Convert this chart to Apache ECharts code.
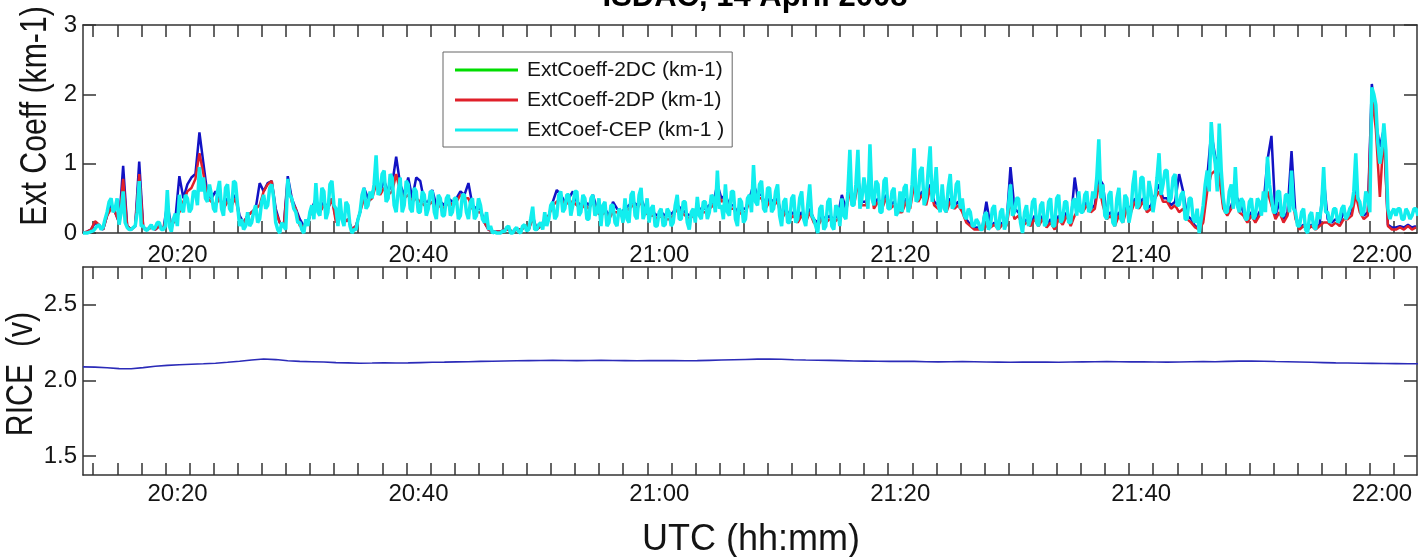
<!DOCTYPE html>
<html>
<head>
<meta charset="utf-8">
<script src="https://cdn.jsdelivr.net/npm/echarts@6/dist/echarts.min.js"></script>
<style>
  html, body { margin: 0; padding: 0; background: #fff; }
  #chart { width: 1418px; height: 557px; }
</style>
</head>
<body>
<div id="chart"></div>
<script>
// Time is expressed in minutes after 20:00 UTC.
const timeStart = 12.15;     // first sample of every record
const probeStep = 1 / 3;     // 2DC / 2DP extinction: one value every 20 s
const cepStep = 1 / 6;       // CEP extinction: one value every 10 s
const riceStep = 1;          // RICE voltage: one value per minute

const labelMinutes = [20, 40, 60, 80, 100, 120];
const tickMinutes = [13, 15, 17, 19, 21, 23, 25, 27, 29, 31, 33, 35, 37, 39, 41, 43, 45, 47, 49, 51,
  53, 55, 57, 59, 61, 63, 65, 67, 69, 71, 73, 75, 77, 79, 81, 83, 85, 87, 89, 91,
  93, 95, 97, 99, 101, 103, 105, 107, 109, 111, 113, 115, 117, 119, 121];
const extTicks = [0, 1, 2, 3];
const riceTicks = [1.5, 2.0, 2.5];

// ExtCoeff-2DC (km-1), three values per minute from 20:12
const ext2DC = [
  0, 0.02, 0.05,  0.15, 0.1, 0.05,  0.25, 0.4, 0.3,  0.15, 0.97, 0.1,  0.05, 0.1, 1.03,
  0.08, 0.05, 0.08,  0.05, 0.1, 0.05,  0.42, 0.1, 0.2,  0.82, 0.5, 0.7,  0.8, 0.85, 1.45,
  1.0, 0.55, 0.5,  0.6, 0.5, 0.4,  0.5, 0.45, 0.55,  0.25, 0.15, 0.25,  0.3, 0.35, 0.72,
  0.6, 0.72, 0.75,  0.35, 0.15, 0.1,  0.82, 0.5, 0.35,  0.2, 0.1, 0.15,  0.35, 0.5, 0.3,
  0.45, 0.35, 0.5,  0.2, 0.3, 0.15,  0.2, 0.05, 0.1,  0.3, 0.65, 0.5,  0.55, 0.8, 0.6,
  0.75, 0.6, 0.7,  1.1, 0.7, 0.55,  0.8, 0.5, 0.8,  0.75, 0.45, 0.45,  0.62, 0.4, 0.45,
  0.4, 0.5, 0.45,  0.5, 0.6, 0.55,  0.72, 0.4, 0.35,  0.35, 0.15, 0.05,  0.02, 0.02, 0.02,
  0.05, 0.05, 0.02,  0.05, 0.05, 0.08,  0.05, 0.25, 0.05,  0.1, 0.2, 0.25,  0.45, 0.62, 0.55,
  0.45, 0.5, 0.6,  0.45, 0.4, 0.45,  0.4, 0.55, 0.35,  0.3, 0.35, 0.25,  0.45, 0.35, 0.3,
  0.35, 0.4, 0.45,  0.4, 0.5, 0.35,  0.3, 0.3, 0.25,  0.3, 0.25, 0.25,  0.3, 0.4, 0.35,
  0.3, 0.25, 0.3,  0.35, 0.35, 0.35,  0.4, 0.45, 0.7,  0.5, 0.55, 0.4,  0.4, 0.3, 0.35,
  0.35, 0.5, 0.7,  0.55, 0.55, 0.4,  0.5, 0.45, 0.5,  0.25, 0.35, 0.25,  0.3, 0.2, 0.3,
  0.2, 0.35, 0.2,  0.15, 0.25, 0.2,  0.25, 0.2, 0.25,  0.55, 0.35, 0.7,  0.45, 0.8, 0.45,
  0.45, 0.85, 0.4,  0.5, 0.4, 0.55,  0.4, 0.45, 0.35,  0.35, 0.5, 0.4,  0.8, 0.5, 0.6,
  0.45, 0.7, 0.45,  0.4, 0.55, 0.35,  0.5, 0.4, 0.45,  0.35, 0.2, 0.12,  0.08, 0.08, 0.08,
  0.45, 0.1, 0.15,  0.08, 0.15, 0.12,  0.95, 0.35, 0.3,  0.12, 0.2, 0.12,  0.25, 0.12, 0.25,
  0.1, 0.2, 0.08,  0.25, 0.15, 0.3,  0.15, 0.8, 0.4,  0.35, 0.45, 0.35,  0.4, 0.8, 0.7,
  0.25, 0.3, 0.15,  0.3, 0.2, 0.4,  0.35, 0.5, 0.4,  0.5, 0.35, 0.4,  0.55, 0.7, 0.5,
  0.5, 0.4, 0.45,  0.85, 0.6, 0.25,  0.2, 0.1, 0.08,  0.2, 0.8, 1.45,  1.1, 0.95, 0.4,
  0.3, 0.4, 0.55,  0.45, 0.3, 0.2,  0.3, 0.2, 0.3,  0.4, 1.05, 1.4,  0.25, 0.45, 0.2,
  0.3, 1.18, 0.25,  0.08, 0.12, 0.08,  0.12, 0.08, 0.12,  0.8, 0.2, 0.15,  0.2, 0.15, 0.3,
  0.25, 0.3, 0.7,  0.35, 0.25, 0.3,  2.15, 1.6, 1.24,  1.5, 0.12, 0.08,  0.08, 0.1, 0.08,
  0.12, 0.08, 0.1
];

// ExtCoeff-2DP (km-1), three values per minute from 20:12
const ext2DP = [
  0, 0.02, 0.05,  0.17, 0.12, 0.05,  0.25, 0.35, 0.3,  0.15, 0.78, 0.1,  0.05, 0.1, 0.85,
  0.08, 0.05, 0.08,  0.05, 0.1, 0.05,  0.3, 0.1, 0.2,  0.3, 0.45, 0.6,  0.65, 0.78, 1.15,
  0.85, 0.5, 0.45,  0.4, 0.5, 0.35,  0.45, 0.4, 0.5,  0.2, 0.15, 0.25,  0.3, 0.35, 0.4,
  0.6, 0.7, 0.75,  0.3, 0.15, 0.1,  0.75, 0.45, 0.35,  0.1, 0.1, 0.15,  0.35, 0.45, 0.3,
  0.4, 0.35, 0.5,  0.15, 0.3, 0.15,  0.2, 0.05, 0.1,  0.3, 0.5, 0.45,  0.5, 0.7, 0.55,
  0.65, 0.55, 0.6,  0.85, 0.6, 0.5,  0.55, 0.45, 0.5,  0.45, 0.4, 0.4,  0.45, 0.35, 0.4,
  0.35, 0.45, 0.4,  0.45, 0.55, 0.5,  0.5, 0.35, 0.3,  0.3, 0.15, 0.05,  0.02, 0.02, 0.02,
  0.05, 0.05, 0.02,  0.05, 0.05, 0.08,  0.05, 0.2, 0.05,  0.1, 0.2, 0.25,  0.4, 0.45, 0.5,
  0.4, 0.45, 0.45,  0.4, 0.35, 0.4,  0.35, 0.45, 0.3,  0.25, 0.3, 0.2,  0.3, 0.3, 0.25,
  0.3, 0.35, 0.4,  0.35, 0.45, 0.3,  0.25, 0.25, 0.2,  0.25, 0.2, 0.2,  0.25, 0.35, 0.3,
  0.25, 0.2, 0.25,  0.3, 0.3, 0.3,  0.35, 0.4, 0.6,  0.45, 0.5, 0.35,  0.35, 0.25, 0.3,
  0.3, 0.45, 0.6,  0.5, 0.5, 0.35,  0.45, 0.4, 0.45,  0.2, 0.3, 0.2,  0.25, 0.15, 0.25,
  0.15, 0.3, 0.15,  0.1, 0.2, 0.15,  0.2, 0.15, 0.2,  0.3, 0.3, 0.6,  0.4, 0.7, 0.4,
  0.4, 0.75, 0.35,  0.45, 0.35, 0.5,  0.35, 0.4, 0.3,  0.3, 0.45, 0.35,  0.7, 0.45, 0.55,
  0.4, 0.65, 0.4,  0.35, 0.5, 0.3,  0.45, 0.35, 0.4,  0.3, 0.15, 0.1,  0.05, 0.05, 0.05,
  0.1, 0.08, 0.12,  0.05, 0.12, 0.1,  0.45, 0.2, 0.25,  0.1, 0.15, 0.1,  0.2, 0.1, 0.2,
  0.08, 0.15, 0.05,  0.2, 0.12, 0.25,  0.1, 0.25, 0.35,  0.3, 0.4, 0.3,  0.35, 0.7, 0.4,
  0.2, 0.25, 0.1,  0.25, 0.15, 0.35,  0.3, 0.45, 0.35,  0.45, 0.3, 0.35,  0.5, 0.6, 0.45,
  0.45, 0.35, 0.4,  0.3, 0.35, 0.2,  0.15, 0.08, 0.05,  0.15, 0.6, 0.85,  0.9, 0.8, 0.35,
  0.25, 0.35, 0.5,  0.3, 0.25, 0.15,  0.25, 0.15, 0.25,  0.35, 0.6, 0.4,  0.2, 0.3, 0.15,
  0.25, 0.6, 0.2,  0.05, 0.1, 0.05,  0.1, 0.05, 0.1,  0.15, 0.15, 0.1,  0.15, 0.1, 0.2,
  0.2, 0.25, 0.55,  0.3, 0.2, 0.25,  2.0, 1.5, 0.52,  1.45, 0.1, 0.05,  0.05, 0.08, 0.05,
  0.1, 0.05, 0.08
];

// ExtCoef-CEP (km-1), six values per minute from 20:12 (one row per minute)
const extCEP = [
  0, 0, 0, 0.01, 0.02, 0.03,
  0.06, 0.1, 0.12, 0.05, 0.08, 0.2,
  0.3, 0.45, 0.5, 0.3, 0.35, 0.5,
  0.12, 0.3, 0.6, 0.15, 0.08, 0.05,
  0.05, 0.08, 0.1, 0.3, 0.75, 0.1,
  0.1, 0.05, 0.04, 0.08, 0.12, 0.05,
  0.08, 0.15, 0.15, 0.05, 0.05, 0.1,
  0.62, 0.1, 0.02, 0.2, 0.28, 0.1,
  0.55, 0.35, 0.3, 0.55, 0.5, 0.3,
  0.35, 0.6, 0.6, 0.4, 0.95, 0.6,
  0.8, 0.5, 0.45, 0.7, 0.55, 0.35,
  0.3, 0.6, 0.75, 0.35, 0.25, 0.65,
  0.7, 0.35, 0.3, 0.75, 0.72, 0.4,
  0.1, 0.2, 0.05, 0.1, 0.3, 0.1,
  0.15, 0.3, 0.4, 0.15, 0.2, 0.45,
  0.55, 0.35, 0.4, 0.65, 0.7, 0.5,
  0.15, 0.05, 0, 0.15, 0.1, 0.05,
  0.78, 0.55, 0.5, 0.35, 0.3, 0.15,
  0.15, 0.05, 0, 0.2, 0.1, 0.3,
  0.4, 0.2, 0.72, 0.3, 0.25, 0.65,
  0.6, 0.2, 0.3, 0.7, 0.75, 0.4,
  0.35, 0.1, 0.5, 0.2, 0.1, 0.45,
  0.4, 0.1, 0, 0.05, 0.05, 0.2,
  0.3, 0.55, 0.65, 0.35, 0.4, 0.6,
  0.5, 0.7, 1.12, 0.55, 0.6, 0.85,
  0.9, 0.45, 0.5, 0.85, 0.8, 0.4,
  0.3, 0.6, 0.8, 0.3, 0.4, 0.75,
  0.7, 0.35, 0.3, 0.65, 0.6, 0.3,
  0.3, 0.6, 0.55, 0.25, 0.35, 0.6,
  0.6, 0.3, 0.2, 0.55, 0.5, 0.25,
  0.25, 0.5, 0.55, 0.25, 0.3, 0.5,
  0.5, 0.2, 0.25, 0.55, 0.55, 0.3,
  0.2, 0.45, 0.5, 0.2, 0.25, 0.5,
  0.4, 0.2, 0.15, 0.3, 0.05, 0.1,
  0, 0.02, 0, 0, 0, 0.03,
  0.02, 0.08, 0.1, 0, 0, 0.05,
  0.08, 0.02, 0, 0.1, 0.12, 0.03,
  0.05, 0.2, 0.38, 0.05, 0.05, 0.12,
  0.15, 0.05, 0.3, 0.1, 0.2, 0.4,
  0.45, 0.2, 0.25, 0.55, 0.6, 0.3,
  0.35, 0.55, 0.55, 0.25, 0.4, 0.6,
  0.6, 0.25, 0.3, 0.55, 0.5, 0.2,
  0.2, 0.5, 0.55, 0.25, 0.3, 0.5,
  0.1, 0.4, 0.45, 0.1, 0.15, 0.4,
  0.4, 0.15, 0.1, 0.35, 0.3, 0.15,
  0.5, 0.2, 0.15, 0.55, 0.6, 0.25,
  0.2, 0.55, 0.65, 0.2, 0.3, 0.5,
  0.15, 0.35, 0.4, 0.1, 0.1, 0.3,
  0.35, 0.1, 0.12, 0.35, 0.3, 0.1,
  0.15, 0.4, 0.55, 0.2, 0.2, 0.45,
  0.45, 0.15, 0.05, 0.3, 0.35, 0.15,
  0.52, 0.25, 0.2, 0.45, 0.45, 0.2,
  0.3, 0.55, 0.5, 0.3, 0.9, 0.35,
  0.4, 0.2, 0.7, 0.3, 0.25, 0.6,
  0.6, 0.2, 0.1, 0.5, 0.45, 0.15,
  0.2, 0.5, 0.55, 0.3, 0.98, 0.45,
  0.4, 0.7, 0.75, 0.35, 0.3, 0.65,
  0.65, 0.3, 0.35, 0.6, 0.7, 0.25,
  0.1, 0.45, 0.5, 0.15, 0.15, 0.5,
  0.55, 0.15, 0.2, 0.5, 0.6, 0.2,
  0.1, 0.4, 0.7, 0.25, 0.2, 0.1,
  0, 0.35, 0.4, 0.05, 0.1, 0.45,
  0.5, 0.1, 0.05, 0.4, 0.35, 0.1,
  0.5, 0.25, 0.2, 0.6, 1.2, 0.4,
  0.4, 0.7, 1.2, 0.35, 0.5, 0.8,
  0.6, 0.35, 1.28, 0.5, 0.4, 0.75,
  0.7, 0.3, 0.3, 0.75, 0.8, 0.35,
  0.35, 0.6, 0.65, 0.25, 0.3, 0.6,
  0.3, 0.65, 0.7, 0.3, 0.4, 0.7,
  1.22, 0.45, 0.5, 0.9, 0.95, 0.4,
  0.5, 0.9, 1.25, 0.45, 0.6, 0.95,
  0.4, 0.3, 0.7, 0.35, 0.3, 0.65,
  0.85, 0.35, 0.4, 0.7, 0.75, 0.35,
  0.5, 0.25, 0.2, 0.35, 0.3, 0.1,
  0.1, 0.2, 0.15, 0.05, 0.05, 0.25,
  0.3, 0.05, 0.1, 0.35, 0.4, 0.1,
  0.05, 0.3, 0.35, 0.05, 0.15, 0.4,
  0.7, 0.25, 0.3, 0.5, 0.5, 0.15,
  0, 0.3, 0.4, 0.1, 0.2, 0.45,
  0.5, 0.15, 0.1, 0.4, 0.45, 0.1,
  0.15, 0.45, 0.5, 0.1, 0.1, 0.5,
  0.55, 0.15, 0.2, 0.45, 0.45, 0.15,
  0.15, 0.45, 0.5, 0.25, 0.6, 0.3,
  0.3, 0.55, 0.6, 0.3, 0.35, 0.6,
  0.5, 0.8, 1.35, 0.5, 0.7, 0.25,
  0.2, 0.55, 0.6, 0.15, 0.1, 0.5,
  0.65, 0.2, 0.15, 0.55, 0.5, 0.15,
  0.3, 0.7, 0.9, 0.35, 0.4, 0.8,
  0.8, 0.35, 0.35, 0.75, 0.6, 0.3,
  0.5, 0.8, 1.15, 0.55, 0.7, 0.9,
  0.9, 0.45, 0.5, 0.8, 0.85, 0.4,
  0.4, 0.55, 0.6, 0.2, 0.2, 0.5,
  0.5, 0.2, 0.15, 0.35, 0, 0.2,
  0.4, 0.7, 0.9, 0.6, 1.6, 1.2,
  1.0, 0.6, 1.58, 0.9, 0.5, 0.3,
  0.3, 0.6, 0.7, 0.35, 0.95, 0.4,
  0.3, 0.5, 0.45, 0.2, 0.2, 0.45,
  0.5, 0.2, 0.25, 0.5, 0.45, 0.25,
  0.6, 0.3, 1.1, 0.7, 0.5, 0.3,
  0.3, 0.6, 0.6, 0.25, 0.25, 0.55,
  0.55, 0.3, 0.9, 0.35, 0.3, 0.1,
  0.1, 0.3, 0.35, 0.05, 0, 0.25,
  0.3, 0.1, 0.05, 0.3, 0.2, 0.4,
  0.95, 0.3, 0.3, 0.15, 0.2, 0.35,
  0.35, 0.15, 0.2, 0.35, 0.4, 0.2,
  0.25, 0.35, 0.4, 0.6, 1.15, 0.5,
  0.45, 0.25, 0.3, 0.6, 0.5, 0.3,
  2.1, 2.0, 1.85, 1.3, 1.0, 1.2,
  1.58, 1.2, 0.35, 0.2, 0.3, 0.35,
  0.25, 0.35, 0.35, 0.2, 0.2, 0.35,
  0.3, 0.2, 0.25, 0.35, 0.35, 0.25
];

// RICE (v), one value per minute from 20:12
const rice = [
  2.090, 2.088, 2.084, 2.078, 2.077, 2.085, 2.094, 2.100, 2.104, 2.107,
  2.110, 2.114, 2.120, 2.127, 2.135, 2.142, 2.138, 2.130, 2.126, 2.124,
  2.122, 2.118, 2.116, 2.114, 2.115, 2.117, 2.115, 2.116, 2.118, 2.120,
  2.121, 2.123, 2.124, 2.126, 2.127, 2.129, 2.130, 2.131, 2.132, 2.133,
  2.132, 2.131, 2.132, 2.133, 2.132, 2.131, 2.130, 2.131, 2.132, 2.131,
  2.130, 2.131, 2.133, 2.135, 2.137, 2.139, 2.141, 2.142, 2.140, 2.137,
  2.135, 2.134, 2.133, 2.131, 2.129, 2.128, 2.127, 2.126, 2.127, 2.126,
  2.124, 2.123, 2.124, 2.125, 2.124, 2.122, 2.121, 2.120, 2.121, 2.122,
  2.121, 2.120, 2.122, 2.123, 2.124, 2.125, 2.124, 2.123, 2.124, 2.122,
  2.121, 2.122, 2.124, 2.125, 2.124, 2.126, 2.128, 2.129, 2.127, 2.125,
  2.124, 2.122, 2.120, 2.118, 2.116, 2.115, 2.114, 2.113, 2.112, 2.111,
  2.110, 2.110
];

const FONT = "'Liberation Sans', Arial, Helvetica, sans-serif";
const AXIS_COLOR = '#333';
const TEXT_COLOR = '#141414';

function toPairs(values, step) {
  return values.map((v, i) => [timeStart + i * step, v]);
}

function hhmm(v) {
  const total = 20 * 60 + Math.round(v);
  const h = Math.floor(total / 60);
  const m = total % 60;
  return h + ':' + (m < 10 ? '0' : '') + m;
}

const xMin = 12.15, xMax = 122.9;

function timeAxis(gridIndex, position, withLabels, labelMargin) {
  return {
    type: 'value', gridIndex, position, min: xMin, max: xMax,
    axisLine: { show: true, onZero: false, lineStyle: { color: AXIS_COLOR, width: 1.5 } },
    axisTick: { show: true, inside: true, length: 12, customValues: tickMinutes,
      lineStyle: { color: AXIS_COLOR, width: 1.5 } },
    axisLabel: { show: withLabels, customValues: labelMinutes, formatter: hhmm,
      fontSize: 24, fontFamily: FONT, color: TEXT_COLOR, margin: labelMargin },
    splitLine: { show: false }
  };
}

function valueAxis(gridIndex, position, min, max, ticks, withLabels, fmt) {
  return {
    type: 'value', gridIndex, position, min, max,
    axisLine: { show: true, onZero: false, lineStyle: { color: AXIS_COLOR, width: 1.5 } },
    axisTick: { show: true, inside: true, length: 13, customValues: ticks,
      lineStyle: { color: AXIS_COLOR, width: 1.5 } },
    axisLabel: { show: withLabels, customValues: ticks, formatter: fmt,
      fontSize: 24, fontFamily: FONT, color: TEXT_COLOR, margin: 6 },
    splitLine: { show: false }
  };
}

const chart = echarts.init(document.getElementById('chart'), null, { renderer: 'canvas' });

chart.setOption({
  animation: false,
  backgroundColor: '#fff',
  grid: [
    { left: 83, top: 25, right: 1, height: 208 },
    { left: 83, top: 267, right: 1, height: 208 }
  ],
  xAxis: [
    timeAxis(0, 'bottom', true, 10),
    timeAxis(0, 'top', false, 8),
    timeAxis(1, 'bottom', true, 7),
    timeAxis(1, 'top', false, 8)
  ],
  yAxis: [
    valueAxis(0, 'left', 0, 3, extTicks, true, v => String(Math.round(v))),
    valueAxis(0, 'right', 0, 3, extTicks, false, null),
    valueAxis(1, 'left', 1.375, 2.75, riceTicks, true, v => v.toFixed(1)),
    valueAxis(1, 'right', 1.375, 2.75, riceTicks, false, null)
  ],
  legend: {
    orient: 'vertical', left: 443, top: 52,
    padding: [7, 8, 6, 12], itemGap: 8, itemWidth: 63, itemHeight: 3, icon: 'rect',
    borderColor: '#666', borderWidth: 1, borderRadius: 0, backgroundColor: '#fff',
    selectedMode: false,
    textStyle: { fontSize: 21, fontFamily: FONT, color: TEXT_COLOR, lineHeight: 22, padding: [0, 0, 0, 4] },
    data: [
      { name: 'ExtCoeff-2DC (km-1)', itemStyle: { color: '#00dd00' } },
      { name: 'ExtCoeff-2DP (km-1)' },
      { name: 'ExtCoef-CEP (km-1 )' }
    ]
  },
  graphic: [
    { type: 'text', x: 755, y: -3, style: { text: 'ISDAC, 14 April 2008', fill: '#000',
      font: 'bold 31px ' + FONT, textAlign: 'center', textVerticalAlign: 'middle' } },
    { type: 'text', x: 36, y: 116, rotation: Math.PI / 2, scaleX: 0.84,
      style: { text: 'Ext Coeff (km-1)', fill: TEXT_COLOR, font: '36px ' + FONT,
        textAlign: 'center', textVerticalAlign: 'middle' } },
    { type: 'text', x: 22, y: 374, rotation: Math.PI / 2, scaleX: 0.84,
      style: { text: 'RICE  (v)', fill: TEXT_COLOR, font: '36px ' + FONT,
        textAlign: 'center', textVerticalAlign: 'middle' } },
    { type: 'text', x: 751, y: 540,
      style: { text: 'UTC (hh:mm)', fill: TEXT_COLOR, font: '36px ' + FONT,
        textAlign: 'center', textVerticalAlign: 'middle' } }
  ],
  series: [
    { type: 'line', name: 'ExtCoeff-2DC (km-1)', xAxisIndex: 0, yAxisIndex: 0,
      data: toPairs(ext2DC, probeStep), symbol: 'none', clip: false,
      lineStyle: { color: '#1212c4', width: 2.5 }, itemStyle: { color: '#1212c4' } },
    { type: 'line', name: 'ExtCoeff-2DP (km-1)', xAxisIndex: 0, yAxisIndex: 0,
      data: toPairs(ext2DP, probeStep), symbol: 'none', clip: false,
      lineStyle: { color: '#e0202a', width: 2.5 }, itemStyle: { color: '#e0202a' } },
    { type: 'line', name: 'ExtCoef-CEP (km-1 )', xAxisIndex: 0, yAxisIndex: 0,
      data: toPairs(extCEP, cepStep), symbol: 'none', clip: false,
      lineStyle: { color: '#12eeee', width: 3.5 }, itemStyle: { color: '#12eeee' } },
    { type: 'line', name: 'RICE', xAxisIndex: 2, yAxisIndex: 2,
      data: toPairs(rice, riceStep), symbol: 'none', clip: true,
      lineStyle: { color: '#2b2bb8', width: 1.6 }, itemStyle: { color: '#2b2bb8' } }
  ]
});
</script>
</body>
</html>
